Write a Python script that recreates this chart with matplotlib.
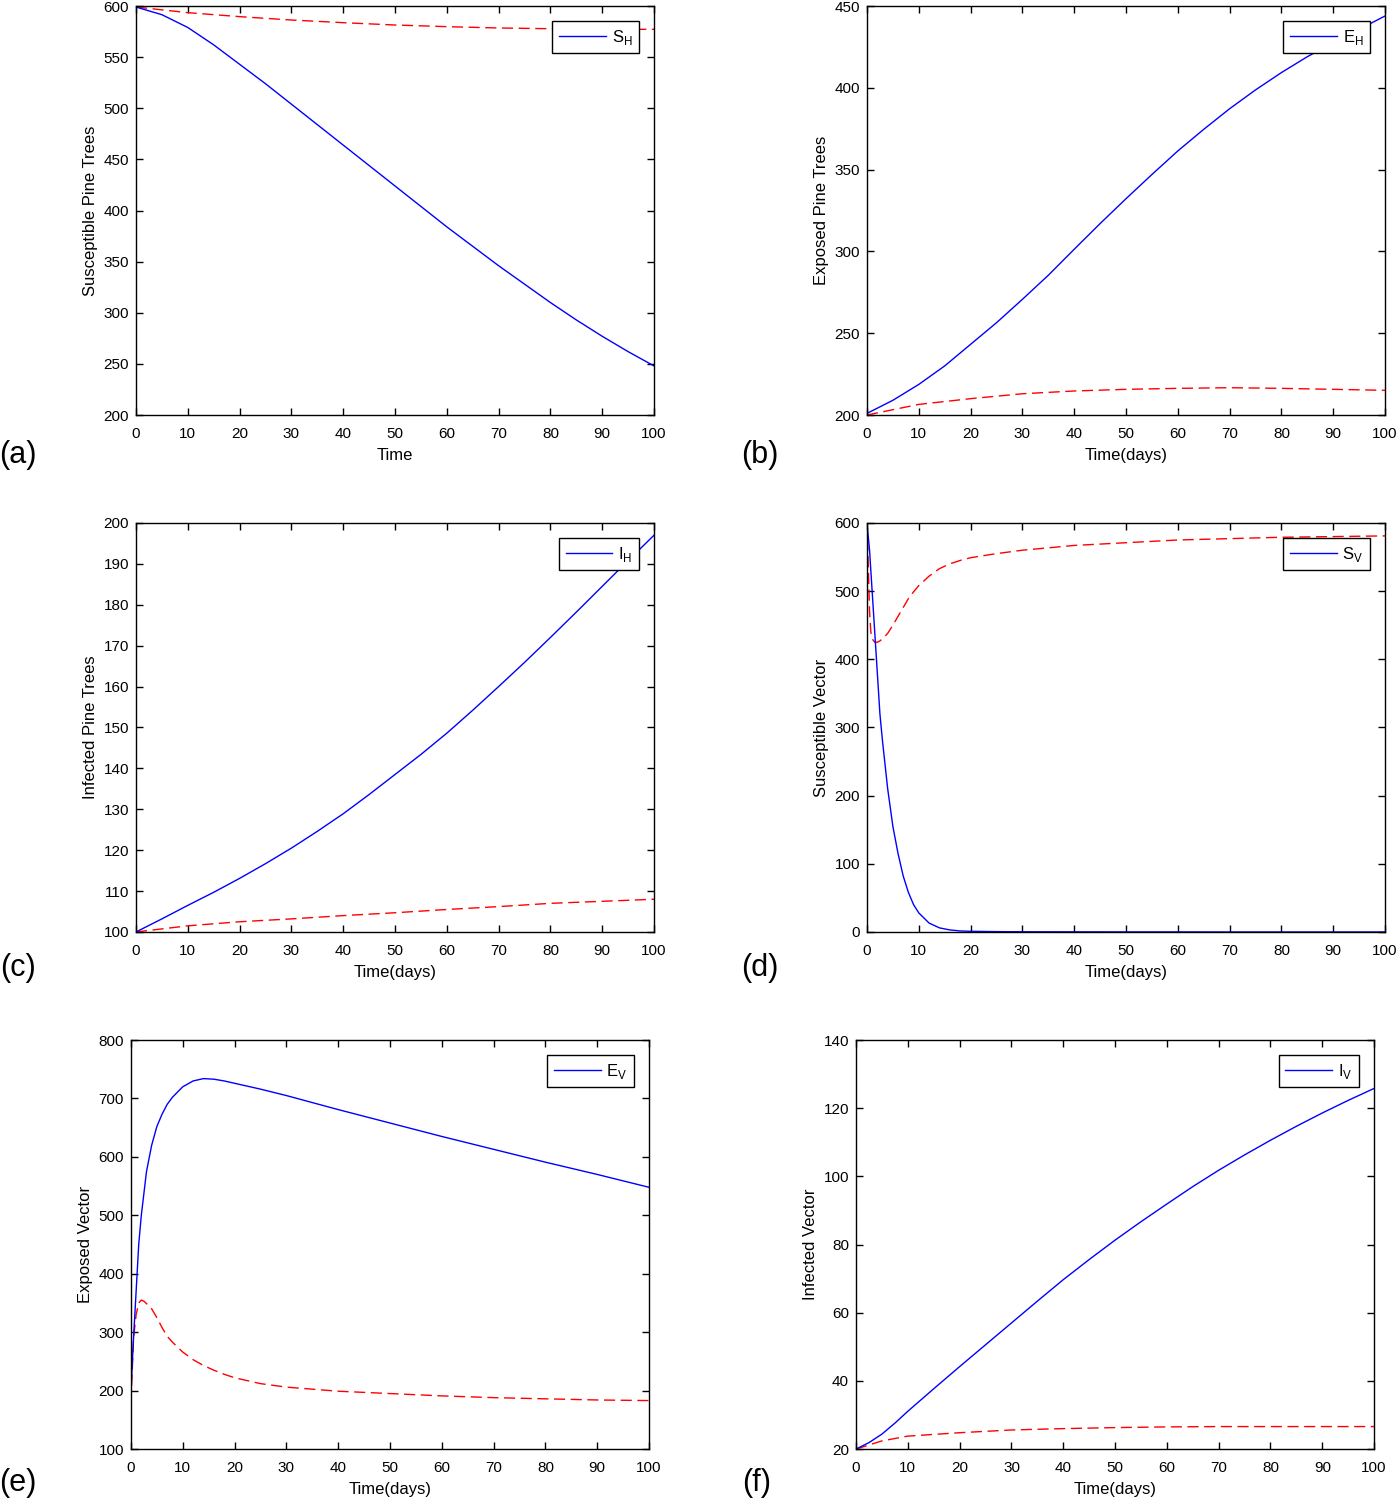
import matplotlib
matplotlib.use("Agg")
import matplotlib.pyplot as plt

plt.rcParams['font.family'] = ['Liberation Sans', 'DejaVu Sans']
plt.rcParams['mathtext.fontset'] = 'custom'
plt.rcParams['mathtext.rm'] = 'Liberation Sans'

# (a) susceptible pine trees
t_a = [0, 5, 10, 15, 20, 25, 30, 35, 40, 45, 50, 55, 60, 65, 70, 75, 80, 85, 90, 95, 100]
sh_blue = [599, 591.5, 579, 562, 543, 524, 504, 484, 464, 444, 424, 404, 384, 365, 346, 328, 310, 293, 277, 262, 248]
t_a_red = [0, 10, 20, 30, 40, 50, 60, 70, 80, 90, 100]
sh_red = [599, 593.5, 589.6, 586.3, 583.7, 581.4, 579.8, 578.5, 577.8, 577.2, 577.2]

# (b) exposed pine trees
t_b = [0, 5, 10, 15, 20, 25, 30, 35, 40, 45, 50, 55, 60, 65, 70, 75, 80, 85, 90, 95, 100]
eh_blue = [201, 209, 218.7, 230, 243.2, 256.4, 270.7, 285.4, 301.3, 317, 332.2, 347, 361.4, 374.6, 387.2, 398.7, 409.3, 419, 427.6, 435.7, 443.9]
t_b_red = [0, 10, 20, 30, 40, 50, 60, 70, 80, 90, 100]
eh_red = [200, 206.5, 210, 213, 214.7, 215.7, 216.3, 216.7, 216.3, 215.7, 215.1]

# (c) infected pine trees
t_c = [0, 5, 10, 15, 20, 25, 30, 35, 40, 45, 50, 55, 60, 65, 70, 75, 80, 85, 90, 95, 100]
ih_blue = [100, 103.2, 106.5, 109.7, 113.1, 116.7, 120.5, 124.6, 128.9, 133.6, 138.5,
           143.4, 148.6, 154.2, 160, 165.9, 172, 178.2, 184.5, 190.8, 197]
t_c_red = [0, 10, 20, 30, 40, 50, 60, 70, 80, 90, 100]
ih_red = [100, 101.5, 102.5, 103.2, 104, 104.7, 105.5, 106.2, 107, 107.5, 108]

# (d) susceptible vector
t_d = [0, 0.5, 1, 1.5, 2, 2.5, 3, 4, 5, 6, 7, 8, 9, 10, 12, 14, 16, 18, 20, 25, 30, 40, 50, 60, 70, 80, 90, 100]
sv_blue = [600, 560, 500, 440, 380, 320, 280, 210, 155, 115, 82, 58, 40, 28, 13, 6, 3, 1.5, 1, 0.5, 0.3, 0.2, 0.1, 0.1, 0, 0, 0, 0]
t_d_red = [0, 0.25, 0.5, 0.75, 1, 1.5, 2, 2.5, 3, 4, 5, 6, 7, 8, 9, 10, 12, 14, 16, 18, 20, 25, 30, 40, 50, 60, 70, 80, 90, 100]
sv_red = [600, 540, 470, 440, 430, 425, 425, 427, 430, 438, 450, 463, 476, 489, 499, 508, 522, 533, 540, 545, 549, 555, 560, 567, 571, 575, 577, 579, 580, 581]

# (e) exposed vector
t_e = [0, 0.5, 1, 1.5, 2, 3, 4, 5, 6, 7, 8, 10, 12, 14, 16, 18, 20, 25, 30, 40, 50, 60, 70, 80, 90, 100]
ev_blue = [200, 290, 370, 450, 500, 575, 620, 652, 673, 690, 702, 720, 730, 734, 733, 730, 726, 716, 705, 681, 658, 635, 613, 591, 570, 548]
t_e_red = [0, 0.5, 1, 1.5, 2, 2.5, 3, 4, 5, 6, 7, 8, 10, 12, 14, 16, 18, 20, 25, 30, 40, 50, 60, 70, 80, 90, 100]
ev_red = [180, 290, 330, 350, 355, 353, 349, 340, 325, 308, 293, 283, 266, 253, 243, 235, 228, 222, 212, 206, 199, 195, 191, 188, 186, 184, 183]

# (f) infected vector
t_f = [0, 2.5, 5, 7.5, 10, 15, 20, 25, 30, 35, 40, 45, 50, 55, 60, 65, 70, 75, 80, 85, 90, 95, 100]
iv_blue = [20, 21.9, 24.4, 27.6, 31.1, 37.7, 44.2, 50.6, 57, 63.4, 69.7, 75.6, 81.3, 86.7,
           91.9, 97, 101.8, 106.3, 110.6, 114.7, 118.6, 122.3, 125.8]
t_f_red = [0, 5, 10, 20, 30, 40, 50, 60, 70, 80, 90, 100]
iv_red = [20, 22.4, 23.8, 24.8, 25.6, 26, 26.3, 26.5, 26.6, 26.6, 26.6, 26.6]

panels = [
    dict(rect=[0.0972, 0.7235, 0.3703, 0.2725], t=t_a, blue=sh_blue, tr=t_a_red, red=sh_red,
         ylim=(200, 600), yt=range(200, 601, 50), ylabel='Susceptible Pine Trees', xlabel='Time',
         leg=r'S$_\mathregular{H}$', tag='(a)', tag_xy=(18, 455)),
    dict(rect=[0.6197, 0.7235, 0.3703, 0.2725], t=t_b, blue=eh_blue, tr=t_b_red, red=eh_red,
         ylim=(200, 450), yt=range(200, 451, 50), ylabel='Exposed Pine Trees', xlabel='Time(days)',
         leg=r'E$_\mathregular{H}$', tag='(b)', tag_xy=(760, 455)),
    dict(rect=[0.0972, 0.3791, 0.3703, 0.2725], t=t_c, blue=ih_blue, tr=t_c_red, red=ih_red,
         ylim=(100, 200), yt=range(100, 201, 10), ylabel='Infected Pine Trees', xlabel='Time(days)',
         leg=r'I$_\mathregular{H}$', tag='(c)', tag_xy=(18, 968)),
    dict(rect=[0.6197, 0.3791, 0.3703, 0.2725], t=t_d, blue=sv_blue, tr=t_d_red, red=sv_red,
         ylim=(0, 600), yt=range(0, 601, 100), ylabel='Susceptible Vector', xlabel='Time(days)',
         leg=r'S$_\mathregular{V}$', tag='(d)', tag_xy=(760, 968)),
    dict(rect=[0.0936, 0.0346, 0.3703, 0.2725], t=t_e, blue=ev_blue, tr=t_e_red, red=ev_red,
         ylim=(100, 800), yt=range(100, 801, 100), ylabel='Exposed Vector', xlabel='Time(days)',
         leg=r'E$_\mathregular{V}$', tag='(e)', tag_xy=(18, 1483)),
    dict(rect=[0.6119, 0.0346, 0.3703, 0.2725], t=t_f, blue=iv_blue, tr=t_f_red, red=iv_red,
         ylim=(20, 140), yt=range(20, 141, 20), ylabel='Infected Vector', xlabel='Time(days)',
         leg=r'I$_\mathregular{V}$', tag='(f)', tag_xy=(757, 1483)),
]

W, H = 1399, 1501
fig = plt.figure(figsize=(W / 100, H / 100), dpi=100)

for p in panels:
    ax = fig.add_axes(p['rect'])
    ax.plot(p['tr'], p['red'], color='#ff0000', lw=1, dashes=(8, 4))
    ax.plot(p['t'], p['blue'], color='#0000ff', lw=1, label=p['leg'])
    ax.set_xlim(0, 100)
    ax.set_ylim(*p['ylim'])
    ax.set_xticks(range(0, 101, 10))
    ax.set_yticks(list(p['yt']))
    ax.tick_params(direction='in', top=True, right=True, length=5, width=1, labelsize=11)
    ax.tick_params(axis='x', pad=8.5)
    ax.tick_params(axis='y', pad=5)
    for s in ax.spines.values():
        s.set_linewidth(1)
    ax.set_xlabel(p['xlabel'], fontsize=12, labelpad=5)
    ax.set_ylabel(p['ylabel'], fontsize=12, labelpad=4)
    leg = ax.legend(loc='upper right', fontsize=12, handlelength=2.8, handletextpad=0.35,
                    borderpad=0.4, fancybox=False, borderaxespad=0.9, framealpha=1)
    leg.get_frame().set_edgecolor('black')
    leg.get_frame().set_linewidth(1)
    fig.text(p['tag_xy'][0] / W, 1 - p['tag_xy'][1] / H, p['tag'], fontsize=22,
             ha='center', va='center')

fig.savefig('out.png', dpi=100)
